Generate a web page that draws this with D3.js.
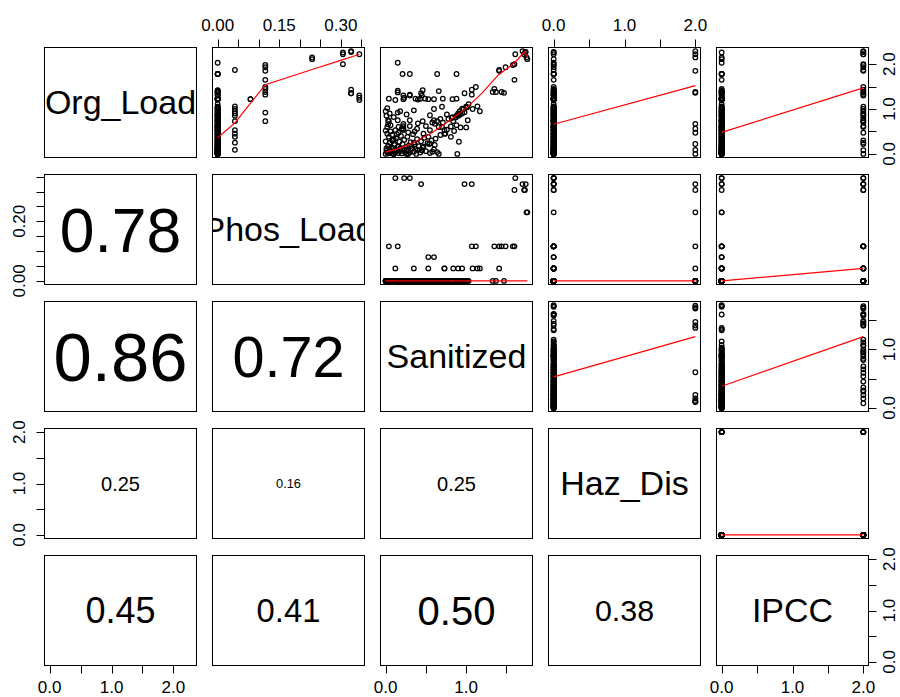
<!DOCTYPE html>
<html><head><meta charset="utf-8">
<script src="https://cdnjs.cloudflare.com/ajax/libs/d3/7.8.5/d3.min.js"></script>
<style>body{margin:0;background:#fff}svg{display:block}text{font-family:"Liberation Sans",Arial,Helvetica,sans-serif;fill:#000}</style>
</head><body><svg id="c" width="900" height="697"></svg>
<script>
// ---------------- DATA ----------------
const varNames = ["Org_Load", "Phos_Load", "Sanitized", "Haz_Dis", "IPCC"];

// Observations with non-zero Phos_Load, Haz_Dis or IPCC
const spOrg  = [2.22,1.20,1.25,1.30,2.29,1.35,1.43,1.35,2.00,2.22,2.26,2.15,2.11,0.73,0.92,1.32,1.49,1.45,1.85,1.38,1.93,1.98,1.65,1.22,1.22,1.87,0.09,0.25,0.38,0.53,0.73,0.85,0.90,1.00,1.06,0.95,0.45,1.38,1.36,1.38,0.67,0.56,0.47,0.22,0.00,1.05,1.00,0.88,0.85,0.80,0.70,0.60,0.75,0.22,0.08,0.00,0.62,0.30,2.27];
const spSan  = [1.61,0.12,0.23,0.30,1.70,0.98,1.07,0.44,1.60,1.72,1.73,1.75,1.76,0.04,0.15,1.07,1.12,1.35,1.41,1.44,1.49,1.58,1.60,0.53,0.60,1.41,0.12,0.35,0.53,0.73,0.84,0.90,0.95,1.08,1.14,1.17,0.73,1.37,1.47,1.33,0.61,0.22,0.16,0.11,0.10,1.00,0.97,0.92,0.88,0.82,0.71,0.66,0.60,0.54,0.45,0.28,0.22,0.08,1.74];
const spPhos = [0.345,0.345,0.345,0.345,0.325,0.325,0.325,0.325,0.305,0.305,0.305,0.23,0.23,0.116,0.116,0.116,0.116,0.116,0.116,0.116,0.116,0.116,0.116,0.08,0.08,0.042,0.042,0.042,0.042,0.042,0.042,0.042,0.042,0.042,0.042,0.042,0.042,0,0,0,0,0,0,0,0,0,0,0,0,0,0,0,0,0,0,0,0,0,0.325];
const spHaz  = [0,0,0,0,2,0,0,0,0,2,0,2,0,0,0,0,0,0,2,0,0,0,0,0,0,0,2,0,0,0,0,0,0,0,0,0,0,2,2,0,2,2,2,2,2,0,0,0,0,0,0,0,0,0,0,0,0,0,0];
const spIpcc = [2,0,0,2,2,0,2,0,2,2,0,0,0,0,0,2,2,0,2,2,2,2,0,0,0,2,0,2,0,0,2,0,2,0,0,2,0,0,2,0,0,0,2,0,0,2,2,2,2,2,2,2,2,2,2,2,2,2,2];

// Bulk observations: Phos_Load = Haz_Dis = IPCC = 0
const bulkSan = [0.15,0.21,0.30,0.64,0.88,0.15,0.15,0.46,0.66,0.04,0.22,0.37,0.40,0.43,0.49,0.71,0.83,0.88,0.22,0.30,0.45,
  1.03,1.01,0.95,0.92,0.98,0.90,0.76,0.83,0.78,0.87,0.91,1.02,0.64,0.46,0.30,0.22,0.15,0.03,
  0.70,0.81,0.88,0.93,0.76,1.00,0.85,0.74,0.81,0.91,0.89,0.66,0.58,0.55,0.47,0.62,0.68,0.47,0.55,0.39,0.30,0.16,0.20,0.12,0.22,
  0.00,0.02,0.04,0.06,0.08,0.10,0.12,0.14,0.16,0.18,0.20,0.22,0.24,0.26,0.28,0.30,0.33,0.35,0.38,0.40,0.43,0.46,0.50,0.55,0.60,0.64,
  0.01,0.03,0.05,0.07,0.09,0.11,0.13,0.15,0.17,0.19,0.21,0.23,0.25,0.27,0.29,0.31,0.34,0.36,0.39,0.41,0.44,0.48,0.52,0.57,0.61,
  0.02,0.04,0.06,0.08,0.10,0.02,0.00,0.01,0.05,0.09,0.13,0.18,0.26,0.32,0.37,0.45,0.00,0.03,0.01,0.00,0.02,
  0.05,0.10,0.18,0.26,0.35,0.55,0.60,0.70,0.40,0.50,0.58,0.68,0.28,0.36,0.14,0.06];
const bulkOrg = [2.03,1.78,1.78,1.78,1.78,1.41,1.37,1.42,1.40,1.23,1.22,1.23,1.21,1.23,1.23,1.23,1.22,1.23,1.30,1.32,1.30,
  1.11,1.04,1.01,0.95,0.93,0.90,0.88,0.82,0.78,0.81,0.86,0.75,0.73,0.73,0.75,0.67,0.75,0.75,
  0.60,0.61,0.64,0.59,0.54,0.59,0.51,0.45,0.38,0.27,0.00,0.00,0.05,0.23,0.16,0.34,0.42,0.45,0.53,0.56,0.62,0.60,0.56,0.53,0.53,
  0.00,0.03,0.01,0.05,0.02,0.00,0.04,0.08,0.02,0.06,0.01,0.10,0.04,0.00,0.07,0.03,0.12,0.05,0.00,0.09,0.03,0.14,0.06,0.02,0.10,0.04,
  0.12,0.18,0.25,0.14,0.30,0.20,0.35,0.16,0.27,0.40,0.22,0.31,0.15,0.38,0.19,0.26,0.44,0.21,0.33,0.17,0.28,0.36,0.24,0.30,0.20,
  0.45,0.38,0.50,0.42,0.33,0.60,0.28,0.07,0.10,0.13,0.06,0.12,0.09,0.18,0.11,0.08,0.52,0.66,0.85,0.95,1.02,
  0.90,0.82,0.95,0.88,0.97,0.86,1.00,1.05,0.68,0.62,0.70,0.78,0.48,0.50,0.44,0.64];

// Correlation labels (lower panels)
const corrCells = [[1,0],[2,0],[2,1],[3,0],[3,1],[3,2],[4,0],[4,1],[4,2],[4,3]];
const corrValues = [0.78,0.86,0.72,0.25,0.16,0.25,0.45,0.41,0.50,0.38];

// Smoothed (lowess) lines: [row, col]
const smoothCells = [[0,1],[0,2],[0,3],[0,4],[1,2],[1,3],[1,4],[2,3],[2,4],[3,4]];
const smoothX = [
  [0,0.042,0.08,0.116,0.23,0.305,0.325,0.345],
  [0,0.2,0.4,0.6,0.8,1.0,1.2,1.4,1.55,1.65,1.72,1.76],
  [0,2],[0,2],[0,1.76],[0,2],[0,2],[0,2],[0,2],[0,2]];
const smoothY = [
  [0.36,0.69,1.13,1.54,1.88,2.10,2.16,2.22],
  [0.04,0.14,0.30,0.50,0.75,1.02,1.36,1.76,1.96,2.12,2.28,2.17],
  [0.66,1.52],[0.48,1.47],[0,0],[0,0],[0,0.042],[0.53,1.22],[0.37,1.22],[0,0]];

// Axis ticks and labels per variable
const tickValues = [
  [0,0.5,1,1.5,2],
  [0,0.05,0.10,0.15,0.20,0.25,0.30,0.35],
  [0,0.5,1,1.5],
  [0,0.5,1,1.5,2],
  [0,0.5,1,1.5,2]];
const tickLabelsTopBottom = [
  ["0.0","","1.0","","2.0"],
  ["0.00","","","0.15","","","0.30",""],
  ["0.0","","1.0",""],
  ["0.0","","1.0","","2.0"],
  ["0.0","","1.0","","2.0"]];
const tickLabelsSide = [
  ["0.0","","1.0","","2.0"],
  ["0.00","","","","0.20","","",""],
  ["0.0","","1.0",""],
  ["0.0","","1.0","","2.0"],
  ["0.0","","1.0","","2.0"]];

// ---------------- BUILD ----------------
const orgLoad = spOrg.concat(bulkOrg);
const sanitized = spSan.concat(bulkSan);
const zeros = bulkOrg.map(() => 0);
const phosLoad = spPhos.concat(zeros);
const hazDis = spHaz.concat(zeros);
const ipcc = spIpcc.concat(zeros);
const vars = [orgLoad, phosLoad, sanitized, hazDis, ipcc];
const nVar = vars.length;

const L0 = 44, T0 = 47, PX = 168, PY = 127, PW = 153, PH = 111;
const TICK = 7.5, FS_AXIS = 17, FS_DIAG = 34, K_COR = 80;

const sx = vars.map(v => { const e = d3.extent(v), p = (e[1]-e[0])*0.04;
  return d3.scaleLinear().domain([e[0]-p, e[1]+p]).range([0, PW]); });
const sy = vars.map(v => { const e = d3.extent(v), p = (e[1]-e[0])*0.04;
  return d3.scaleLinear().domain([e[0]-p, e[1]+p]).range([PH, 0]); });

const svg = d3.select("#c");
svg.append("rect").attr("width",900).attr("height",697).attr("fill","#fff");
const defs = svg.append("defs");
defs.append("clipPath").attr("id","pclip").append("rect")
  .attr("x",0).attr("y",0).attr("width",PW).attr("height",PH);

for (let i = 0; i < nVar; i++) {
  for (let j = 0; j < nVar; j++) {
    const g = svg.append("g").attr("transform", `translate(${L0 + j*PX},${T0 + i*PY})`);
    const inner = g.append("g").attr("clip-path","url(#pclip)");
    if (i < j) {
      const pts = vars[j].map((x, k) => [x, vars[i][k]]);
      inner.selectAll("circle").data(pts).join("circle")
        .attr("cx", d => sx[j](d[0])).attr("cy", d => sy[i](d[1]))
        .attr("r", 2.3).attr("fill","none").attr("stroke","#000").attr("stroke-width",1.25);
      const si = smoothCells.findIndex(c => c[0] === i && c[1] === j);
      if (si >= 0) {
        const line = d3.line().x(d => sx[j](d[0])).y(d => sy[i](d[1]));
        inner.append("path").attr("d", line(smoothX[si].map((x,k) => [x, smoothY[si][k]])))
          .attr("fill","none").attr("stroke","#ff0000").attr("stroke-width",1.2);
      }
    } else if (i === j) {
      inner.append("text").attr("x", PW/2).attr("y", PH/2 + 0.35*FS_DIAG)
        .attr("text-anchor","middle").attr("font-size", FS_DIAG).text(varNames[i]);
    } else {
      const ci = corrCells.findIndex(c => c[0] === i && c[1] === j);
      const r = corrValues[ci];
      const fs = K_COR * r;
      inner.append("text").attr("x", PW/2).attr("y", PH/2 + 0.36*fs)
        .attr("text-anchor","middle").attr("font-size", fs).text(r.toFixed(2));
    }
    g.append("rect").attr("x",0.5).attr("y",0.5).attr("width",PW-1).attr("height",PH-1)
      .attr("fill","none").attr("stroke","#000").attr("stroke-width",1);

    // axes
    const tv = tickValues[j], tvi = tickValues[i];
    if (i === 0 && (j === 1 || j === 3)) {
      const ax = g.append("g");
      ax.append("line").attr("x1", sx[j](tv[0])).attr("x2", sx[j](tv[tv.length-1])).attr("y1",0.5).attr("y2",0.5).attr("stroke","#000");
      tv.forEach((t, k) => {
        const x = Math.round(sx[j](t)) + 0.5;
        ax.append("line").attr("x1",x).attr("x2",x).attr("y1",0.5).attr("y2",-TICK).attr("stroke","#000");
        if (tickLabelsTopBottom[j][k]) ax.append("text").attr("x", sx[j](t)).attr("y",-16)
          .attr("text-anchor","middle").attr("font-size",FS_AXIS).text(tickLabelsTopBottom[j][k]);
      });
    }
    if (i === nVar-1 && (j === 0 || j === 2 || j === 4)) {
      const ax = g.append("g");
      ax.append("line").attr("x1", sx[j](tv[0])).attr("x2", sx[j](tv[tv.length-1])).attr("y1",PH-0.5).attr("y2",PH-0.5).attr("stroke","#000");
      tv.forEach((t, k) => {
        const x = Math.round(sx[j](t)) + 0.5;
        ax.append("line").attr("x1",x).attr("x2",x).attr("y1",PH-0.5).attr("y2",PH+TICK).attr("stroke","#000");
        if (tickLabelsTopBottom[j][k]) ax.append("text").attr("x", sx[j](t)).attr("y",PH+26.5)
          .attr("text-anchor","middle").attr("font-size",FS_AXIS).text(tickLabelsTopBottom[j][k]);
      });
    }
    if (j === 0 && (i === 1 || i === 3)) {
      const ax = g.append("g");
      ax.append("line").attr("y1", sy[i](tvi[0])).attr("y2", sy[i](tvi[tvi.length-1])).attr("x1",0.5).attr("x2",0.5).attr("stroke","#000");
      tvi.forEach((t, k) => {
        const y = Math.round(sy[i](t)) + 0.5;
        ax.append("line").attr("y1",y).attr("y2",y).attr("x1",0.5).attr("x2",-TICK).attr("stroke","#000");
        if (tickLabelsSide[i][k]) ax.append("text")
          .attr("transform", `translate(-19,${sy[i](t)}) rotate(-90)`)
          .attr("text-anchor","middle").attr("font-size",FS_AXIS).text(tickLabelsSide[i][k]);
      });
    }
    if (j === nVar-1 && (i === 0 || i === 2 || i === 4)) {
      const ax = g.append("g");
      ax.append("line").attr("y1", sy[i](tvi[0])).attr("y2", sy[i](tvi[tvi.length-1])).attr("x1",PW-0.5).attr("x2",PW-0.5).attr("stroke","#000");
      tvi.forEach((t, k) => {
        const y = Math.round(sy[i](t)) + 0.5;
        ax.append("line").attr("y1",y).attr("y2",y).attr("x1",PW-0.5).attr("x2",PW+TICK).attr("stroke","#000");
        if (tickLabelsSide[i][k]) ax.append("text")
          .attr("transform", `translate(${PW+26},${sy[i](t)}) rotate(-90)`)
          .attr("text-anchor","middle").attr("font-size",FS_AXIS).text(tickLabelsSide[i][k]);
      });
    }
  }
}
</script></body></html>
